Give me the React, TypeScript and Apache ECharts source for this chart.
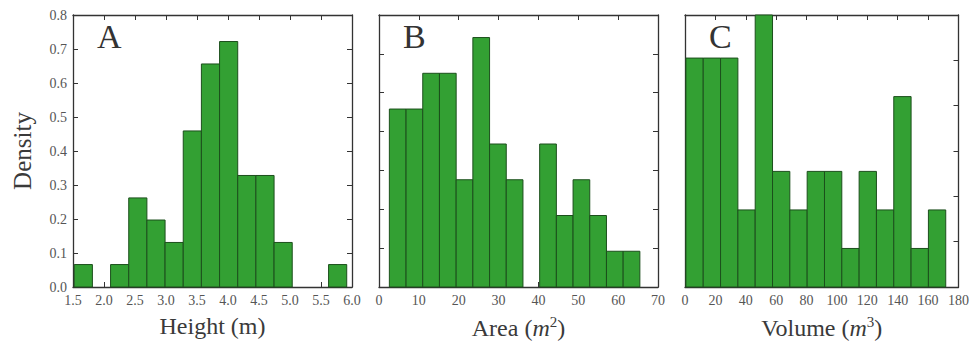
import React, { useEffect, useRef } from "react";
import * as echarts from "echarts";

// Histogram A: Height (m)
const heightBinStart = 1.52;
const heightBinWidth = 0.293;
const heightDensity = [0.066, 0, 0.066, 0.262, 0.197, 0.131, 0.459, 0.656, 0.722, 0.328, 0.328, 0.131, 0, 0, 0.066];

// Histogram B: Area (m^2)
const areaBinStart = 2.6;
const areaBinWidth = 4.19;
const areaDensity = [0.0229, 0.0229, 0.0275, 0.0275, 0.0138, 0.0321, 0.0184, 0.0138, 0, 0.0184, 0.0092, 0.0138, 0.0092, 0.0046, 0.0046];

// Histogram C: Volume (m^3)
const volumeBinStart = 0.6;
const volumeBinWidth = 11.4;
const volumeDensity = [0.0101, 0.0101, 0.0101, 0.0034, 0.0121, 0.0051, 0.0034, 0.0051, 0.0051, 0.0017, 0.0051, 0.0034, 0.0084, 0.0017, 0.0034];

// Axis ranges
const xRanges = [
  { min: 1.5, max: 6.0, interval: 0.5, decimals: 1 },
  { min: 0, max: 70, interval: 10, decimals: 0 },
  { min: 0, max: 180, interval: 20, decimals: 0 },
];
const yRanges = [
  { min: 0, max: 0.8, interval: 0.1, labels: true },
  { min: 0, max: 0.035, interval: 0.005, labels: false },
  { min: 0, max: 0.012, interval: 0.002, labels: false },
];
const panelLetters = ["A", "B", "C"];
const yTitle = "Density";

const SERIF = "Liberation Serif";
const FILL = "#33a033";
const EDGE = "#1c4f1c";
const AXIS = "#333333";
const TEXT = "#3a3a3a";

function binsToData(start: number, width: number, dens: number[]) {
  return dens.map((d, i) => [start + i * width, start + (i + 1) * width, d]);
}

export default function App() {
  const ref = useRef<HTMLDivElement>(null);
  useEffect(() => {
    document.body.style.margin = "0";
    if (!ref.current) return;
    const chart = echarts.init(ref.current, undefined, { renderer: "svg" });

    const grids = [
      { left: 73, top: 15, width: 279, height: 272 },
      { left: 379, top: 15, width: 279, height: 272 },
      { left: 685, top: 15, width: 276, height: 272 },
    ];
    const datasets = [
      binsToData(heightBinStart, heightBinWidth, heightDensity),
      binsToData(areaBinStart, areaBinWidth, areaDensity),
      binsToData(volumeBinStart, volumeBinWidth, volumeDensity),
    ];
    const xNames = [
      "Height (m)",
      "{n|Area (}{i|m}{s|2}{n|)}",
      "{n|Volume (}{i|m}{s|3}{n|)}",
    ];
    const rich = {
      n: { fontFamily: SERIF, fontSize: 24, color: TEXT },
      i: { fontFamily: SERIF, fontSize: 24, fontStyle: "italic", color: TEXT },
      s: { fontFamily: SERIF, fontSize: 15, color: TEXT, verticalAlign: "bottom", padding: [0, 0, 12, 0] },
    };

    const xAxis: any[] = [];
    const yAxis: any[] = [];
    const series: any[] = [];
    grids.forEach((g, i) => {
      const xr = xRanges[i];
      const yr = yRanges[i];
      const nameStyle: any = { fontFamily: SERIF, fontSize: 24, color: TEXT };
      if (i > 0) nameStyle.rich = rich;
      xAxis.push({
        type: "value", gridIndex: i, min: xr.min, max: xr.max, interval: xr.interval,
        position: "bottom",
        axisLine: { show: true, onZero: false, lineStyle: { color: AXIS, width: 1.3 } },
        axisTick: { show: true, inside: true, length: 5, lineStyle: { color: AXIS } },
        axisLabel: {
          show: true, fontFamily: SERIF, fontSize: 14, color: "#555", margin: 6,
          formatter: (v: number) => v.toFixed(xr.decimals),
        },
        splitLine: { show: false },
        name: xNames[i], nameLocation: "middle", nameGap: 27,
        nameTextStyle: nameStyle,
      });
      xAxis.push({
        type: "value", gridIndex: i, min: xr.min, max: xr.max, interval: xr.interval,
        position: "top",
        axisLine: { show: true, onZero: false, lineStyle: { color: AXIS, width: 1.3 } },
        axisTick: { show: true, inside: true, length: 5, lineStyle: { color: AXIS } },
        axisLabel: { show: false },
        splitLine: { show: false },
      });
      yAxis.push({
        type: "value", gridIndex: i, min: yr.min, max: yr.max, interval: yr.interval,
        position: "left",
        axisLine: { show: true, onZero: false, lineStyle: { color: AXIS, width: 1.3 } },
        axisTick: { show: true, inside: true, length: 5, lineStyle: { color: AXIS } },
        axisLabel: {
          show: yr.labels, fontFamily: SERIF, fontSize: 14, color: "#555", margin: 6,
          formatter: (v: number) => v.toFixed(1),
        },
        splitLine: { show: false },
        name: i === 0 ? yTitle : "", nameLocation: "middle", nameGap: 38,
        nameTextStyle: { fontFamily: SERIF, fontSize: 25, color: TEXT },
      });
      yAxis.push({
        type: "value", gridIndex: i, min: yr.min, max: yr.max, interval: yr.interval,
        position: "right",
        axisLine: { show: true, onZero: false, lineStyle: { color: AXIS, width: 1.3 } },
        axisTick: { show: true, inside: true, length: 5, lineStyle: { color: AXIS } },
        axisLabel: { show: false },
        splitLine: { show: false },
      });
      series.push({
        type: "custom",
        xAxisIndex: i * 2,
        yAxisIndex: i * 2,
        data: datasets[i],
        encode: { x: [0, 1], y: 2 },
        renderItem: (params: any, api: any) => {
          const x0 = api.value(0), x1 = api.value(1), y = api.value(2);
          if (!y) return null;
          const p0 = api.coord([x0, y]);
          const p1 = api.coord([x1, 0]);
          const cs = params.coordSys;
          const rect = echarts.graphic.clipRectByRect(
            { x: p0[0], y: p0[1], width: p1[0] - p0[0], height: p1[1] - p0[1] },
            { x: cs.x, y: cs.y, width: cs.width, height: cs.height }
          );
          if (!rect) return null;
          return {
            type: "rect",
            shape: rect,
            style: { fill: FILL, stroke: EDGE, lineWidth: 1 },
          };
        },
      });
    });

    const graphic = grids.map((g, i) => ({
      type: "text",
      left: g.left + 24,
      top: g.top + 4,
      z: 100,
      style: { text: panelLetters[i], fontFamily: SERIF, fontSize: 34, fill: "#333" },
    }));

    chart.setOption({
      animation: false,
      textStyle: { fontFamily: SERIF },
      grid: grids.map((g) => ({ ...g, containLabel: false })),
      xAxis,
      yAxis,
      series,
      graphic,
    });
    return () => chart.dispose();
  }, []);
  return <div ref={ref} style={{ width: 972, height: 345 }} />;
}
